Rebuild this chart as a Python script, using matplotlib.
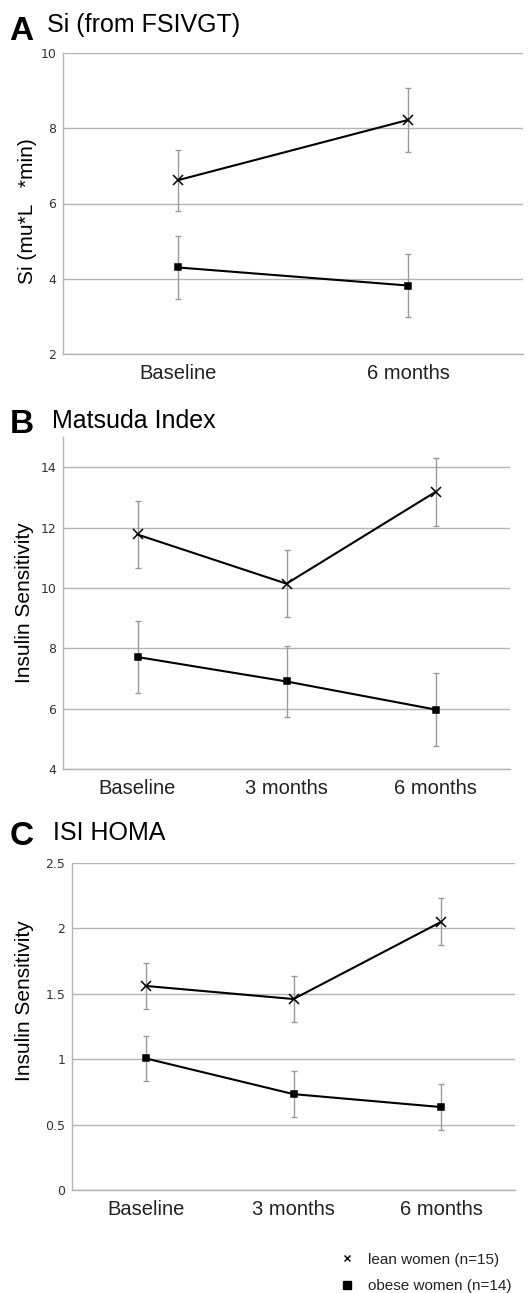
"""
Insulin sensitivity panels (Si, Matsuda index, ISI HOMA) for lean vs obese women.
"""

import matplotlib.pyplot as plt
from matplotlib.lines import Line2D

plt.rcParams['font.family'] = ['Liberation Sans', 'DejaVu Sans']

# Data
times_a = ['Baseline', '6 months']
lean_a = [6.62, 8.22]
lean_a_err = [0.81, 0.85]
obese_a = [4.30, 3.82]
obese_a_err = [0.83, 0.83]

times_bc = ['Baseline', '3 months', '6 months']
lean_b = [11.77, 10.14, 13.18]
lean_b_err = [1.10, 1.12, 1.12]
obese_b = [7.71, 6.90, 5.97]
obese_b_err = [1.20, 1.19, 1.21]

lean_c = [1.56, 1.46, 2.05]
lean_c_err = [0.173, 0.178, 0.18]
obese_c = [1.006, 0.733, 0.634]
obese_c_err = [0.173, 0.174, 0.177]

W, H = 529, 1293
fig = plt.figure(figsize=(W / 100, H / 100), dpi=100)

grid_col = '#b4b4b4'
err_col = '#9a9a9a'


def px_axes(left, right, top, bottom):
    return fig.add_axes([left / W, 1 - bottom / H, (right - left) / W, (bottom - top) / H])


def draw_panel(ax, cats, lean, lean_err, obese, obese_err, ylim, yticks, yticklabels):
    x = list(range(len(cats)))
    for y, e, mk, ms in [(lean, lean_err, 'x', 7.5), (obese, obese_err, 's', 5)]:
        ax.errorbar(x, y, yerr=e, fmt='none', ecolor=err_col, elinewidth=1,
                    capsize=2, capthick=1, zorder=2)
        ax.plot(x, y, color='black', lw=1.5, marker=mk, ms=ms, mew=1.1,
                mfc='black', mec='black', zorder=3)
    ax.set_xlim(-0.5, len(cats) - 0.5)
    ax.set_ylim(*ylim)
    ax.set_yticks(yticks)
    ax.set_yticklabels(yticklabels, family='DejaVu Sans', fontsize=9, color='#333333')
    ax.set_xticks(x)
    ax.set_xticklabels(cats, fontsize=14.5, color='#222222')
    ax.tick_params(axis='both', length=0)
    ax.tick_params(axis='y', pad=5)
    ax.tick_params(axis='x', pad=7)
    ax.grid(axis='y', color=grid_col, lw=1)
    ax.set_axisbelow(True)
    for s in ['top', 'right']:
        ax.spines[s].set_visible(False)
    for s in ['left', 'bottom']:
        ax.spines[s].set_color(grid_col)
        ax.spines[s].set_linewidth(1)


# Panel A
ax_a = px_axes(63, 523, 53, 354)
draw_panel(ax_a, times_a, lean_a, lean_a_err, obese_a, obese_a_err,
           (2, 10), [2, 4, 6, 8, 10], ['2', '4', '6', '8', '10'])
fig.text(28 / W, 1 - 211 / H, 'Si (mu*L   *min)', rotation=90, fontsize=15,
         ha='center', va='center')
fig.text(9 / W, 1 - 40 / H, 'A', fontsize=24, fontweight='bold', va='baseline')
fig.text(47 / W, 1 - 32 / H, 'Si (from FSIVGT)', fontsize=18, va='baseline')

# Panel B
ax_b = px_axes(63, 510, 437, 769)
draw_panel(ax_b, times_bc, lean_b, lean_b_err, obese_b, obese_b_err,
           (4, 15), [4, 6, 8, 10, 12, 14], ['4', '6', '8', '10', '12', '14'])
fig.text(25 / W, 1 - 603 / H, 'Insulin Sensitivity', rotation=90, fontsize=15,
         ha='center', va='center')
fig.text(10 / W, 1 - 433 / H, 'B', fontsize=24, fontweight='bold', va='baseline')
fig.text(52 / W, 1 - 428 / H, 'Matsuda Index', fontsize=18, va='baseline')

# Panel C
ax_c = px_axes(72, 515, 863, 1190)
draw_panel(ax_c, times_bc, lean_c, lean_c_err, obese_c, obese_c_err,
           (0, 2.5), [0, 0.5, 1, 1.5, 2, 2.5], ['0', '0.5', '1', '1.5', '2', '2.5'])
fig.text(25 / W, 1 - 1001 / H, 'Insulin Sensitivity', rotation=90, fontsize=15,
         ha='center', va='center')
fig.text(10 / W, 1 - 845 / H, 'C', fontsize=24, fontweight='bold', va='baseline')
fig.text(53 / W, 1 - 840 / H, 'ISI HOMA', fontsize=18, va='baseline')

# Legend
handles = [
    Line2D([], [], ls='none', marker='x', ms=5, mew=1, color='black', label='lean women (n=15)'),
    Line2D([], [], ls='none', marker='s', ms=6, color='black', label='obese women (n=14)'),
]
fig.legend(handles=handles, loc='upper left', bbox_to_anchor=(330 / W, 1 - 1245 / H),
           frameon=False, fontsize=11, handlelength=1.2, handletextpad=0.8,
           labelspacing=0.8, borderpad=0, labelcolor='#222222')

fig.savefig('out.png', dpi=100, facecolor='white')
